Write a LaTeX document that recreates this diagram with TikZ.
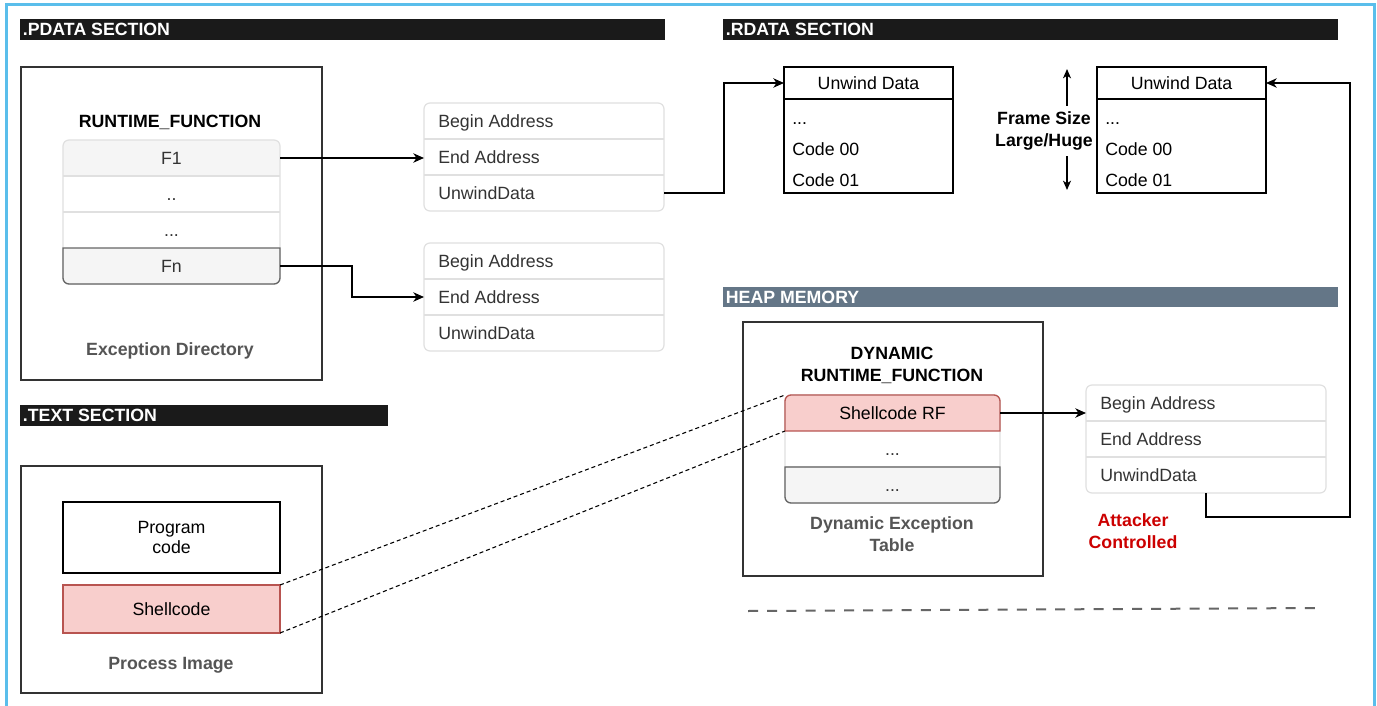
\documentclass[tikz,border=0pt]{standalone}
\usepackage{fontspec}
\setmainfont{Liberation Sans}
\usetikzlibrary{arrows.meta,calc}
\definecolor{hdrbk}{HTML}{1A1A1A}
\definecolor{heap}{HTML}{647687}
\definecolor{frameblue}{RGB}{90,190,235}
\definecolor{redfill}{HTML}{F8CECC}
\definecolor{reddraw}{HTML}{B85450}
\definecolor{grayfill}{HTML}{F5F5F5}
\definecolor{lightline}{HTML}{E0E0E0}
\definecolor{darkline}{HTML}{666666}
\definecolor{labgray}{HTML}{555555}
\definecolor{txt}{HTML}{333333}
\definecolor{attack}{HTML}{CC0000}
\definecolor{boxline}{HTML}{333333}
\newcommand\bx[7]{\node[#6, anchor=north west, inner sep=0pt, outer sep=0pt, minimum width={(#4-#2)*0.75pt}, minimum height={(#5-#3)*0.75pt}] (#1) at (#2,#3) {#7};}
\begin{document}
\begin{tikzpicture}[x=0.75pt,y=-0.75pt,
  font=\fontsize{13.3}{16.5}\selectfont,
  arr/.style={draw=black, line width=1.1pt, -{Stealth[length=8pt,width=7pt,inset=2.4pt]}},
  hdr/.style={fill=hdrbk},
  hdrtext/.style={text=white, font=\fontsize{13.3}{16}\selectfont\bfseries, anchor=west, inner sep=0pt, text height=9.5pt, text depth=0pt},
  outer/.style={draw=boxline, line width=1.1pt},
  ubox/.style={draw=black, line width=1pt},
  ct/.style={text height=9.5pt, text depth=0pt, inner sep=0pt},
  rowtext/.style={ct, anchor=west, text=txt},
  udtext/.style={ct, anchor=west, text=black},
  cell/.style={text=txt, text height=9.5pt, text depth=0pt},
  boldlab/.style={font=\fontsize{13.3}{16.5}\selectfont\bfseries, align=center, inner sep=0pt},
  tline/.style={draw=lightline, line width=0.9pt},
  rc/.style={rounded corners=4.5pt}
]
\useasboundingbox (0,0) rectangle (1377,706);
\fill[white] (0,0) rectangle (1377,706);
\draw[frameblue, line width=2.25pt] (6.5,712) -- (6.5,5) -- (1374.5,5) -- (1374.5,712);

% ---------- headers
\bx{pdh}{20}{19}{665}{40}{hdr}{}
\node[hdrtext] at ([xshift=2pt]pdh.west) {.PDATA SECTION};
\bx{rdh}{723}{19}{1338}{40}{hdr}{}
\node[hdrtext] at ([xshift=2pt]rdh.west) {.RDATA SECTION};
\bx{hph}{723}{287}{1338}{307}{fill=heap}{}
\node[hdrtext] at ([xshift=2pt]hph.west) {HEAP MEMORY};
\bx{txh}{20}{405}{388}{426}{hdr}{}
\node[hdrtext] at ([xshift=2pt]txh.west) {.TEXT SECTION};

% ---------- exception directory
\bx{ed}{21}{67}{322}{380}{outer}{}
\node[boldlab] (rfl) at (170,122) {RUNTIME\_FUNCTION};
\begin{scope}
  \clip[rc] (63,140) rectangle (280,284);
  \fill[grayfill] (63,140) rectangle (280,176);
  \fill[grayfill] (63,248) rectangle (280,284);
\end{scope}
\draw[tline, rc] (63,140) rectangle (280,284);
\draw[tline] (63,176) -- (280,176) (63,212) -- (280,212);
\draw[darkline, line width=1pt] (280,248) -- (63,248) [rc] -- (63,284) -- (280,284) [sharp corners] -- cycle;
\bx{f1}{63}{140}{280}{176}{cell}{F1}
\bx{r2}{63}{176}{280}{212}{cell}{..}
\bx{r3}{63}{212}{280}{248}{cell}{...}
\bx{fn}{63}{248}{280}{284}{cell}{Fn}
\node[boldlab, text=labgray] (edl) at (170,351) {Exception Directory};

% ---------- pdata tables
\bx{t1a}{424}{103}{664}{139}{}{}
\bx{t1b}{424}{139}{664}{175}{}{}
\bx{t1c}{424}{175}{664}{211}{}{}
\draw[tline, rc] (t1a.north west) rectangle (t1c.south east);
\draw[tline] (t1a.south west) -- (t1a.south east) (t1b.south west) -- (t1b.south east);
\node[rowtext] (t1at) at ([xshift=10.5pt]t1a.west) {Begin Address};
\node[rowtext] (t1bt) at ([xshift=10.5pt]t1b.west) {End Address};
\node[rowtext] (t1ct) at ([xshift=10.5pt]t1c.west) {UnwindData};

\bx{t2a}{424}{243}{664}{279}{}{}
\bx{t2b}{424}{279}{664}{315}{}{}
\bx{t2c}{424}{315}{664}{351}{}{}
\draw[tline, rc] (t2a.north west) rectangle (t2c.south east);
\draw[tline] (t2a.south west) -- (t2a.south east) (t2b.south west) -- (t2b.south east);
\node[rowtext] (t2at) at ([xshift=10.5pt]t2a.west) {Begin Address};
\node[rowtext] (t2bt) at ([xshift=10.5pt]t2b.west) {End Address};
\node[rowtext] (t2ct) at ([xshift=10.5pt]t2c.west) {UnwindData};

% ---------- unwind data boxes
\bx{ud1}{784}{67}{953}{193}{ubox}{}
\bx{ud1h}{784}{67}{953}{99}{ct}{Unwind Data}
\draw[ubox] (ud1h.south west) -- (ud1h.south east);
\node[udtext] (u1a) at (792,118) {...};
\node[udtext] (u1b) at (792,149) {Code 00};
\node[udtext] (u1c) at (792,180) {Code 01};

\coordinate (fsT) at (1067,69);
\coordinate (fsB) at (1067,190);
\draw[line width=1pt, {Stealth[length=7pt,width=6pt,inset=2pt]}-{Stealth[length=7pt,width=6pt,inset=2pt]}] (fsT) -- (fsB);
\node[boldlab, fill=white, inner xsep=0.5pt, inner ysep=4pt] (fs) at (1044,131) {Frame Size\\Large/Huge};

\bx{ud2}{1097}{67}{1266}{193}{ubox, fill=white}{}
\bx{ud2h}{1097}{67}{1266}{99}{ct}{Unwind Data}
\draw[ubox] (ud2h.south west) -- (ud2h.south east);
\node[udtext] (u2a) at (1105,118) {...};
\node[udtext] (u2b) at (1105,149) {Code 00};
\node[udtext] (u2c) at (1105,180) {Code 01};

% ---------- heap: dynamic table
\bx{dyn}{743}{322}{1043}{576}{outer}{}
\node[boldlab] (dynl) at (892,365) {DYNAMIC\\RUNTIME\_FUNCTION};
\begin{scope}
  \clip[rc] (785,395) rectangle (1000,503);
  \fill[redfill] (785,395) rectangle (1000,431);
  \fill[grayfill] (785,467) rectangle (1000,503);
\end{scope}
\draw[tline, rc] (785,395) rectangle (1000,503);
\draw[tline] (785,467) -- (1000,467);
\draw[reddraw, line width=1pt] (785,431) [rc] -- (785,395) -- (1000,395) [sharp corners] -- (1000,431) -- cycle;
\draw[darkline, line width=1pt] (1000,467) -- (785,467) [rc] -- (785,503) -- (1000,503) [sharp corners] -- cycle;
\bx{srf}{785}{395}{1000}{431}{cell, text=black}{Shellcode RF}
\bx{d2}{785}{431}{1000}{467}{cell}{...}
\bx{d3}{785}{467}{1000}{503}{cell}{...}
\node[boldlab, text=labgray] (detl) at (892,534) {Dynamic Exception\\Table};

\bx{t3a}{1086}{385}{1326}{421}{}{}
\bx{t3b}{1086}{421}{1326}{457}{}{}
\bx{t3c}{1086}{457}{1326}{493}{}{}
\draw[tline, rc] (t3a.north west) rectangle (t3c.south east);
\draw[tline] (t3a.south west) -- (t3a.south east) (t3b.south west) -- (t3b.south east);
\node[rowtext] (t3at) at ([xshift=10.5pt]t3a.west) {Begin Address};
\node[rowtext] (t3bt) at ([xshift=10.5pt]t3b.west) {End Address};
\node[rowtext] (t3ct) at ([xshift=10.5pt]t3c.west) {UnwindData};
\node[boldlab, text=attack] (atk) at (1133,531.5) {Attacker\\Controlled};

% ---------- text section
\bx{pi}{21}{466}{322}{693}{outer}{}
\bx{pc}{63}{502}{280}{573}{draw=black, line width=0.9pt, align=center, font=\fontsize{13.3}{15}\selectfont}{Program\\code}
\bx{sc}{63}{585}{280}{633}{fill=redfill, draw=reddraw, line width=0.9pt}{Shellcode}
\node[boldlab, text=labgray] (pil) at (171,665) {Process Image};

% ---------- connectors
\draw[arr] (f1.east) -- (f1.east -| t1b.west);
\draw[arr] (fn.east) -| ($(fn.east)!.5!(t2b.west)$) |- (t2b.west);
\draw[arr] (t1c.east) -| ($(t1c.east)!.5!(ud1h.west)$) |- (ud1h.west);
\draw[arr] (srf.east) -- (srf.east -| t3a.west);
\coordinate (c1) at (1350,517);
\draw[arr] (t3c.south) |- (c1) |- (ud2h.east);
\draw[line width=0.8pt, dash pattern=on 3pt off 2.2pt] (sc.north east) -- (srf.north west);
\draw[line width=0.8pt, dash pattern=on 3pt off 2.2pt] (sc.south east) -- (srf.south west);

% ---------- separator
\coordinate (sepL) at (748,611);
\coordinate (sepR) at (1317,608);
\draw[darkline, line width=1.5pt, dash pattern=on 7.5pt off 6.9pt] (sepL) -- (sepR);
\end{tikzpicture}
\end{document}
